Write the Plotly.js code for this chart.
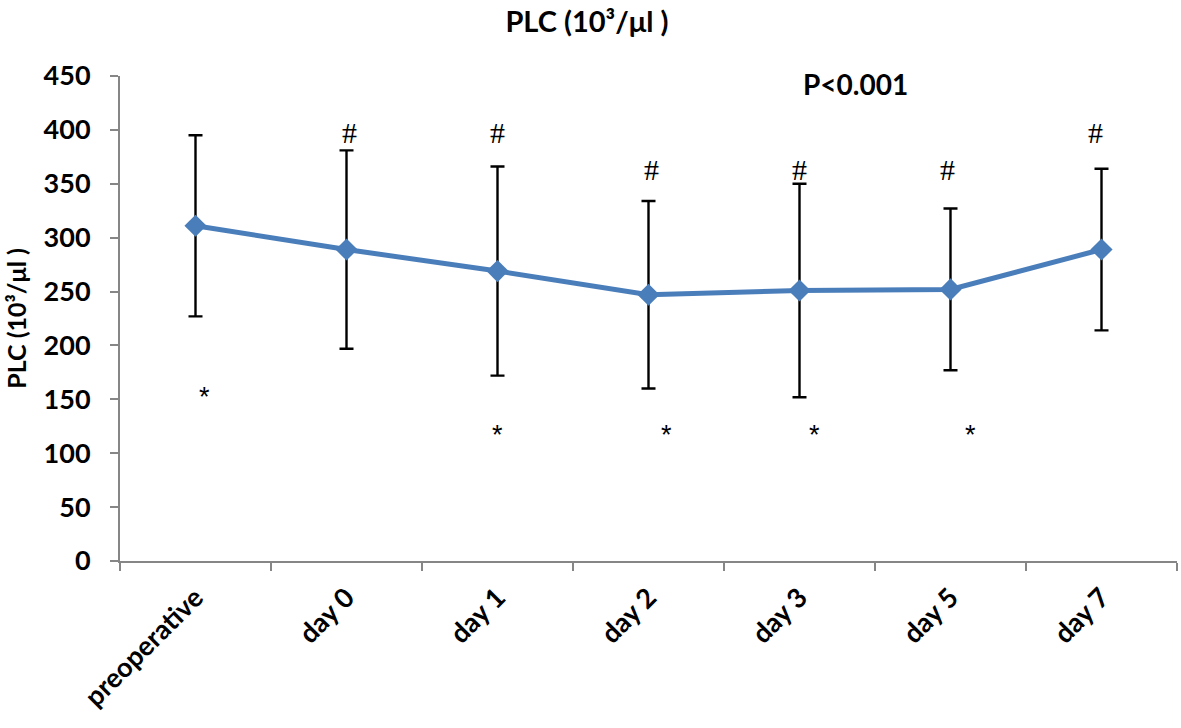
<!DOCTYPE html>
<html>
<head>
<meta charset="utf-8">
<script src="https://cdn.plot.ly/plotly-3.0.1.min.js"></script>
<style>html,body{margin:0;padding:0;background:#fff;}#chart{width:1181px;height:728px;}</style>
</head>
<body>
<div id="chart"></div>
<script>
const categories = ["preoperative", "day 0", "day 1", "day 2", "day 3", "day 5", "day 7"];
const meanValues = [311, 289, 269, 247, 251, 252, 289];
const sdValues = [84, 92, 97, 87, 99, 75, 75];
const hashPositions = [1.02, 2.0, 3.02, 4.0, 4.98, 5.96];
const hashY = [398, 398, 363, 363, 363, 398];
const starPositions = [0.06, 2.0, 3.12, 4.1, 5.13];
const starY = [152, 117, 117, 117, 117];
const pText = "P<0.001";
const yTicks = [0, 50, 100, 150, 200, 250, 300, 350, 400, 450];

const font = "Lato, 'Open Sans', sans-serif";

const trace = {
  x: categories,
  y: meanValues,
  type: 'scatter',
  mode: 'lines+markers',
  line: {color: '#4a7ebb', width: 5},
  marker: {symbol: 'diamond', size: 17, color: '#4a7ebb'},
  error_y: {type: 'data', array: sdValues, visible: true, color: '#000', thickness: 2.4, width: 7},
  showlegend: false
};

const annotations = [];
hashPositions.forEach((x, i) => annotations.push({x: x, y: hashY[i], xref: 'x', yref: 'y', text: '#', showarrow: false, font: {family: "'Liberation Serif', serif", size: 30, color: '#000'}}));
starPositions.forEach((x, i) => annotations.push({x: x, y: starY[i], xref: 'x', yref: 'y', text: '*', showarrow: false, font: {family: "'Liberation Sans', sans-serif", size: 27, color: '#000'}}));
annotations.push({x: 4.37, y: 443, xref: 'x', yref: 'y', text: '<b>' + pText + '</b>', showarrow: false, font: {family: font, size: 28, color: '#000'}});

const layout = {
  width: 1181, height: 728,
  margin: {l: 120, r: 4, t: 76, b: 167},
  paper_bgcolor: '#fff', plot_bgcolor: '#fff',
  title: {text: '<b>PLC (10³/μl )</b>', x: 0.497, xanchor: 'center', y: 0.97, yanchor: 'middle', font: {family: font, size: 29, color: '#000'}},
  xaxis: {
    type: 'category',
    automargin: false,
    tickson: 'boundaries',
    ticks: 'outside', ticklen: 8, tickcolor: '#868686', tickwidth: 2,
    ticklabelstandoff: 8,
    showline: true, linecolor: '#868686', linewidth: 2,
    showgrid: false, zeroline: false,
    tickangle: -45,
    tickvals: categories,
    ticktext: categories.map(c => '<b>' + c + '</b>'),
    tickfont: {family: font, size: 27, color: '#000'},
    range: [-0.5, 6.5]
  },
  yaxis: {
    automargin: false,
    range: [0, 450],
    tickvals: yTicks,
    ticktext: yTicks.map(v => '<b>' + v + '</b>'),
    ticks: 'outside', ticklen: 8, tickcolor: '#868686', tickwidth: 2,
    ticklabelstandoff: 14,
    showline: true, linecolor: '#868686', linewidth: 2,
    showgrid: false, zeroline: false,
    tickfont: {family: font, size: 27, color: '#000'},
    title: {text: '<b>PLC (10³/μl )</b>', standoff: 10, font: {family: font, size: 25, color: '#000'}}
  },
  annotations: annotations
};

Plotly.newPlot('chart', [trace], layout, {displayModeBar: false});
</script>
</body>
</html>
